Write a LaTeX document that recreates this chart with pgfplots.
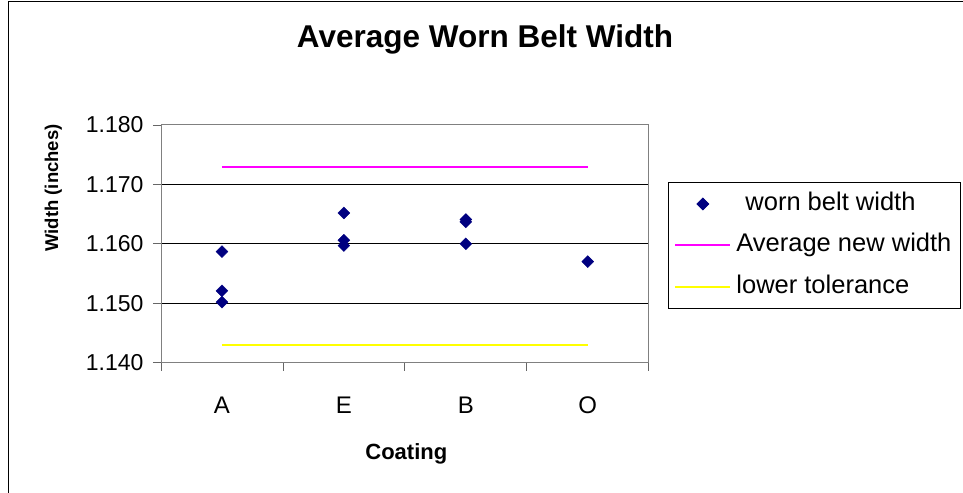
\documentclass[border=0pt]{standalone}
\usepackage{pgfplots}
\pgfplotsset{compat=1.18}
\usepackage{fontspec}
\setmainfont{Liberation Sans}
\definecolor{navy}{rgb}{0,0,0.5}
\definecolor{FullMagenta}{rgb}{1,0,1}
\definecolor{FullYellow}{rgb}{1,1,0}
\pgfplotsset{
  lineleg/.style={legend image code/.code={\draw[##1] (0bp,0bp) -- (55bp,0bp);}},
  markleg/.style={legend image code/.code={\draw[mark repeat=2,mark phase=2,##1] plot coordinates {(0bp,0bp)(27.5bp,0bp)(55bp,0bp)};}},
}
\begin{document}
\begin{tikzpicture}[x=1bp,y=1bp]
\path[use as bounding box] (0,0) rectangle (963,493);
\draw[black, line width=1bp] (8,0) -- (8,491) -- (963,491);
\begin{axis}[
  at={(161bp,130.3bp)}, anchor=south west,
  scale only axis, width=487.7bp, height=237.7bp,
  xmin=0.5, xmax=4.5, ymin=1.14, ymax=1.18,
  xtick={1,2,3,4}, xticklabels={A,E,B,O},
  minor xtick={0.5,1.5,2.5,3.5,4.5},
  major x tick style={draw=none},
  xtick pos=bottom, ytick pos=left,
  ytick={1.15,1.16,1.17},
  extra y ticks={1.14,1.18},
  extra y tick style={grid=none},
  ymajorgrids, major grid style={black, line width=0.8bp},
  tick align=outside, major tick length=8bp, minor tick length=8bp,
  tick style={black!60, line width=0.8bp},
  axis line style={black!50, line width=1bp},
  yticklabel style={/pgf/number format/fixed, /pgf/number format/fixed zerofill, /pgf/number format/precision=3, /pgf/number format/assume math mode=true, font=\fontsize{23bp}{27bp}\selectfont, xshift=-6bp},
  xticklabel style={font=\fontsize{24bp}{28bp}\selectfont, yshift=-23bp},
  title={Average Worn Belt Width},
  title style={at={(axis description cs:0.6643,1.3016)}, anchor=base, font=\bfseries\fontsize{31.5bp}{36bp}\selectfont},
  xlabel={Coating},
  xlabel style={at={(axis description cs:0.503,-0.409)}, anchor=base, font=\bfseries\fontsize{22bp}{26bp}\selectfont},
  ylabel={Width (inches)},
  ylabel style={at={(axis description cs:-0.211,0.735)}, anchor=base, font=\bfseries\fontsize{18.5bp}{22bp}\selectfont},
  legend style={at={(rel axis cs:1.0396,0.760)}, anchor=north west, draw=black, line width=0.8bp,
    font=\fontsize{25.5bp}{30bp}\selectfont, row sep=12.5bp, column sep=2bp,
    inner xsep=6bp, inner ysep=7bp,
    nodes={text height=18bp, text depth=5bp, inner xsep=3bp, inner ysep=3bp}},
  legend cell align=left,
]
\addplot[only marks, mark=square*, mark size=4.2bp, mark options={rotate=45, fill=navy, draw=navy}, markleg]
  coordinates {
  (1,1.1587) (1,1.1521) (1,1.1502)
  (2,1.1652) (2,1.1606) (2,1.1597)
  (3,1.1641) (3,1.1637) (3,1.1600)
  (4,1.1570)
  };
\addlegendentry{\hspace*{9bp}worn belt width}
\addplot[FullMagenta, line width=2bp, mark=none, lineleg]
  coordinates {(1,1.1729) (4,1.1729)};
\addlegendentry{Average new width}
\addplot[FullYellow, line width=2bp, mark=none, lineleg]
  coordinates {(1,1.1430) (4,1.1430)};
\addlegendentry{lower tolerance}
\end{axis}
\end{tikzpicture}
\end{document}
